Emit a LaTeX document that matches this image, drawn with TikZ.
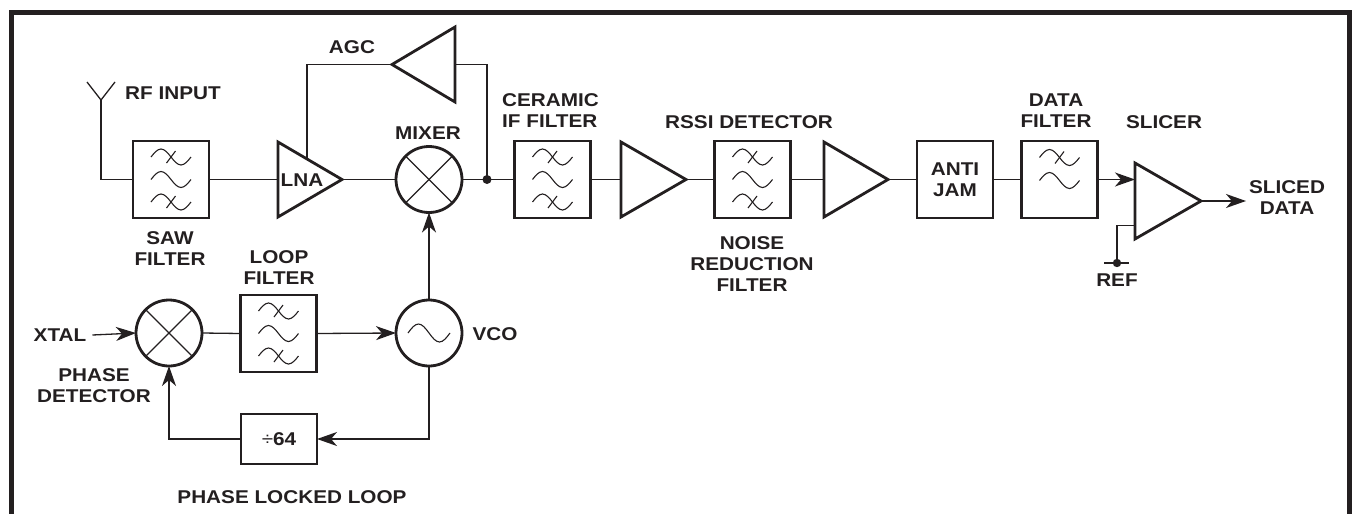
\documentclass[tikz,border=0pt]{standalone}
\usepackage{fontspec}
\setmainfont{Liberation Sans}[FakeStretch=1.12]
\usetikzlibrary{arrows.meta,calc}
\definecolor{ink}{RGB}{35,31,32}
\tikzset{
  conn/.style={line width=1.3pt, draw=ink},
  arr/.style={conn, -{Stealth[length=20pt,width=14pt,inset=6pt]}},
  lbl/.style={font=\fontsize{18.5}{21}\selectfont\bfseries, text=ink, inner sep=0pt, align=center},
  fbox/.style={draw=ink, line width=2.8pt, minimum width=76pt, minimum height=77pt, inner sep=0pt, outer sep=0pt, lbl},
  circ/.style={circle, draw=ink, line width=2.8pt, minimum size=66pt, inner sep=0pt, outer sep=0pt},
  amp/.style={draw=ink, line width=2.8pt, line join=miter},
  wv/.style={line width=1.1pt, draw=ink},
}
\newcommand\wavesym[2]{%
  \draw[wv] (-20,#1) sin (-10,#1-8) cos (0,#1) sin (10,#1+8) cos (20,#1);
  \ifnum#2=1 \draw[wv] (-4.5,#1+6) -- (4.5,#1-6);\fi}
\newcommand\threewave[1]{\begin{scope}[shift={(#1)}]\wavesym{-22.5}{1}\wavesym{0}{0}\wavesym{22.5}{1}\end{scope}}
\newcommand\crossin[1]{\draw[conn] (#1.45) -- (#1.225); \draw[conn] (#1.135) -- (#1.315);}
\begin{document}
\begin{tikzpicture}[x=1pt,y=-1pt]
\useasboundingbox (0,0) rectangle (1353,514);
% frame
\draw[line width=5pt, ink, line join=miter] (11,530) -- (11,12.5) -- (1349,12.5) -- (1349,530);

% blocks
\node[fbox] (saw) at (171,179.5) {};
\node[fbox] (cer) at (552.5,179.5) {};
\node[fbox] (nrf) at (752.5,179.5) {};
\node[fbox] (aj) at (955,179.5) {ANTI\\JAM};
\node[fbox] (df) at (1059.5,179.5) {};
\node[circ] (mix) at (429,179.5) {};
\node[circ] (pd) at (169,333) {};
\node[circ] (vco) at (429,333) {};
\node[fbox] (lf) at (278.5,333.5) {};
\node[fbox, minimum height=50pt] (div) at (279,439) {{\mdseries ÷}64};

\threewave{saw}
\threewave{cer}
\threewave{nrf}
\threewave{lf}
\begin{scope}[shift={(df)}]\wavesym{-22}{1}\wavesym{1}{0}\end{scope}
\crossin{mix}
\crossin{pd}
\begin{scope}[shift={(vco)}]
  \draw[wv] (-21,0) sin (-10.5,-9) cos (0,0) sin (10.5,9) cos (21,0);
\end{scope}

% amplifiers
\draw[amp] (278,142) -- (342,179.5) -- (278,217) -- cycle;
\draw[amp] (621,142) -- (686,179.5) -- (621,217) -- cycle;
\draw[amp] (824,142) -- (888,179.5) -- (824,217) -- cycle;
\draw[amp] (455,27) -- (392,64.5) -- (455,102) -- cycle;
\draw[amp] (1135,163) -- (1201,201) -- (1135,239) -- cycle;
\coordinate (lnaIn) at (278,179.5);
\coordinate (lnaOut) at (342,179.5);
\coordinate (lnaTap) at (307,159);
\coordinate (a1In) at (621,179.5);
\coordinate (a1Out) at (686,179.5);
\coordinate (a2In) at (824,179.5);
\coordinate (a2Out) at (888,179.5);
\coordinate (agcTip) at (392,64.5);
\coordinate (agcBack) at (455,64.5);
\coordinate (dotc) at (487,179.5);
\coordinate (slIn) at (1135,179.5);
\coordinate (slRef) at (1135,225.5);
\coordinate (slOut) at (1201,201);
\coordinate (sdEnd) at (1246,201);
\coordinate (refDot) at (1117,263);
\coordinate (antA) at (87,82);
\coordinate (antB) at (115,82);
\coordinate (antTip) at (101,100);

% labels
\node[lbl, anchor=west] (rfin) at (125,93) {RF INPUT};
\node[lbl] (agc) at (352,47) {AGC};
\node[lbl] (lnal) at (302,180) {LNA};
\node[lbl] (mixl) at (428,133) {MIXER};
\node[lbl, align=left, anchor=west] (cerl) at (502,111) {CERAMIC\\IF FILTER};
\node[lbl] (rssi) at (749,122) {RSSI DETECTOR};
\node[lbl] (dfl) at (1056,110.5) {DATA\\FILTER};
\node[lbl] (sll) at (1164,122) {SLICER};
\node[lbl] (sdl) at (1287,198) {SLICED\\DATA};
\node[lbl] (sawl) at (170,249) {SAW\\FILTER};
\node[lbl] (lfl) at (279,267.5) {LOOP\\FILTER};
\node[lbl] (xtal) at (60,335) {XTAL};
\node[lbl] (pdl) at (94,385.5) {PHASE\\DETECTOR};
\node[lbl] (vcol) at (495,334) {VCO};
\node[lbl] (nrl) at (752,264) {NOISE\\REDUCTION\\FILTER};
\node[lbl] (refl) at (1117,280) {REF};
\node[lbl] (pll) at (292,497) {PHASE LOCKED LOOP};

% connectors
\draw[conn] (antA) -- (antTip) -- (antB);
\draw[conn] (antTip) |- (saw.west);
\draw[conn] (saw.east) -- (lnaIn);
\draw[conn] (lnaOut) -- (mix.west);
\draw[conn] (mix.east) -- (cer.west);
\draw[conn] (lnaTap) |- (agcTip);
\draw[conn] (agcBack) -| (dotc);
\fill[ink] (dotc) circle (4.5);
\draw[conn] (cer.east) -- (a1In);
\draw[conn] (a1Out) -- (nrf.west);
\draw[conn] (nrf.east) -- (a2In);
\draw[conn] (a2Out) -- (aj.west);
\draw[conn] (aj.east) -- (df.west);
\draw[arr] (df.east) -- (slIn);
\draw[arr] (slOut) -- (sdEnd);
\draw[conn] (slRef) -| (refDot);
\fill[ink] (refDot) circle (4.2);
\draw[ink, line width=2.2pt] ([xshift=-13pt]refDot) -- ([xshift=12pt]refDot);

\draw[arr] ([xshift=6pt]xtal.east) -- (pd.west);
\draw[conn] (pd.east) -- (lf.west);
\draw[arr] (lf.east) -- (vco.west);
\draw[arr] (vco.north) -- (mix.south);
\draw[arr] (vco.south) |- (div.east);
\draw[arr] (div.west) -| (pd.south);
\end{tikzpicture}
\end{document}
